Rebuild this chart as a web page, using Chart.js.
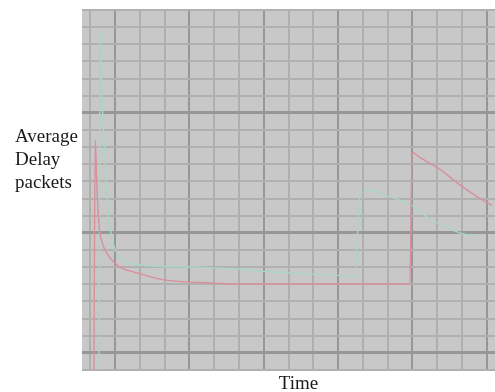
<!DOCTYPE html>
<html>
<head>
<meta charset="utf-8">
<script src="https://cdn.jsdelivr.net/npm/chart.js@4.4.1/dist/chart.umd.min.js"></script>
<style>
  html, body { margin: 0; padding: 0; background: #fff; }
  #wrap { width: 495px; height: 392px; position: relative; }
</style>
</head>
<body>
<div id="wrap"><canvas id="delayChart" width="495" height="392"></canvas></div>
<script>
// data (time in arbitrary units 0-100, delay in grid units 0-21)
const redTime = [2.9, 3.2, 3.6, 4.1, 4.8, 5.8, 7.3, 9.2, 12.8, 18.9, 28.6, 40.7, 52.8, 67.3, 79.4, 79.9, 81.8, 86.7, 91.5, 96.4, 99.3];
const redDelay = [0, 13.4, 10.8, 8.5, 7.5, 6.9, 6.4, 6.0, 5.7, 5.3, 5.1, 5.0, 5.0, 5.0, 5.0, 12.7, 12.4, 11.7, 10.8, 10.0, 9.6];

const greenTime = [4.1, 4.4, 4.8, 5.6, 6.3, 7.3, 8.7, 11.1, 14.8, 28.6, 47.9, 66.1, 67.3, 70.2, 73.4, 77.0, 79.9, 83.1, 86.7, 91.5, 95.2];
const greenDelay = [0, 19.8, 16.3, 12.3, 9.3, 7.6, 6.7, 6.3, 6.1, 6.0, 5.7, 5.5, 10.2, 10.5, 10.2, 9.9, 9.6, 9.0, 8.5, 8.0, 7.8];

// grid positions (no tick labels are shown in the picture)
const xTicks = [2, 8, 14, 20, 26, 32, 38, 44, 50, 56, 62, 68, 74, 80, 86, 92, 98];
const xDarkTicks = [8, 26, 44, 62, 80, 98];
const yDarkTicks = [1, 8, 15];

const yTitle = ["Average", "Delay", "packets"];
const xTitle = "Time";

function toPoints(xs, ys) {
  return xs.map((x, i) => ({ x: x, y: ys[i] }));
}

document.addEventListener("DOMContentLoaded", function () {
  const ctx = document.getElementById("delayChart").getContext("2d");

  // grey plot background + the horizontal labels
  const paperPlugin = {
    id: "paper",
    beforeDraw(chart) {
      const a = chart.chartArea;
      const c = chart.ctx;
      c.save();
      c.fillStyle = "#c8c8c8";
      c.fillRect(a.left, a.top, a.right - a.left, a.bottom - a.top);
      c.restore();
    },
    afterDraw(chart) {
      const c = chart.ctx;
      const a = chart.chartArea;
      c.save();
      c.fillStyle = "#1a1a1a";
      c.font = "19px 'Liberation Serif', 'DejaVu Serif', serif";
      c.textAlign = "left";
      c.textBaseline = "alphabetic";
      yTitle.forEach((t, i) => c.fillText(t, 15, 142 + i * 23));
      c.textAlign = "center";
      c.fillText(xTitle, (a.left + a.right) / 2 + 10, 389);
      c.restore();
    },
  };

  new Chart(ctx, {
    type: "line",
    data: {
      datasets: [
        {
          label: "red",
          data: toPoints(redTime, redDelay),
          borderColor: "#d9909b",
          borderWidth: 1.4,
          pointRadius: 0,
          cubicInterpolationMode: "monotone",
        },
        {
          label: "green",
          data: toPoints(greenTime, greenDelay),
          borderColor: "#a8d6c3",
          borderWidth: 1.4,
          pointRadius: 0,
          cubicInterpolationMode: "monotone",
        },
      ],
    },
    options: {
      responsive: false,
      animation: false,
      layout: { padding: { left: 82, top: 10, right: 0, bottom: 22 } },
      plugins: {
        legend: { display: false },
        tooltip: { enabled: false },
      },
      scales: {
        x: {
          type: "linear",
          min: 0,
          max: 100,
          afterBuildTicks(scale) {
            scale.ticks = xTicks.map((v) => ({ value: v }));
          },
          ticks: { display: false },
          border: { display: false },
          grid: {
            drawTicks: false,
            lineWidth: 2,
            color: (c) => (xDarkTicks.includes(c.tick.value) ? "#979797" : "#afafaf"),
          },
        },
        y: {
          min: 0,
          max: 21,
          ticks: { display: false, stepSize: 1 },
          border: { display: false },
          grid: {
            drawTicks: false,
            lineWidth: (c) => (yDarkTicks.includes(c.tick.value) ? 3 : 2),
            color: (c) => (yDarkTicks.includes(c.tick.value) ? "#979797" : "#b0b0b0"),
          },
        },
      },
    },
    plugins: [paperPlugin],
  });
});
</script>
</body>
</html>
